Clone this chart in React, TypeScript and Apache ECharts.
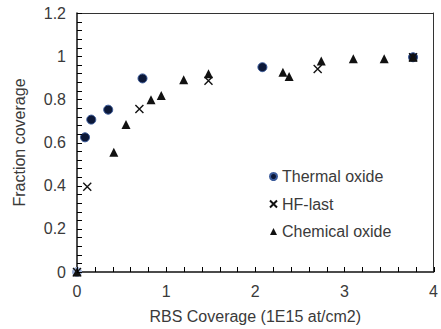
import React, { useEffect, useRef } from "react";
import * as echarts from "echarts";

const thermalX = [0, 0.09, 0.16, 0.35, 0.735, 2.08, 3.77];
const thermalY = [0, 0.624, 0.706, 0.752, 0.897, 0.949, 0.995];

const hfX = [0, 0.115, 0.7, 1.475, 2.7, 3.77];
const hfY = [0, 0.395, 0.755, 0.886, 0.94, 0.995];

const chemX = [0, 0.413, 0.55, 0.83, 0.945, 1.197, 1.475, 2.31, 2.38, 2.74, 3.1, 3.446, 3.77];
const chemY = [0, 0.555, 0.683, 0.798, 0.818, 0.891, 0.918, 0.926, 0.906, 0.978, 0.988, 0.988, 0.995];

const seriesNames = ["Thermal oxide", "HF-last", "Chemical oxide"];
const xTitle = "RBS Coverage (1E15 at/cm2)";
const yTitle = "Fraction coverage";

// axis tick positions (every 0.2 on x, every 0.04 on y)
const xTickValues = Array.from({ length: 21 }, (_, i) => +(i * 0.2).toFixed(2));
const yTickValues = Array.from({ length: 31 }, (_, i) => +(i * 0.04).toFixed(2));

const zip = (xs: number[], ys: number[]) => xs.map((x, i) => [x, ys[i]]);

const FONT = "'Liberation Sans', Arial, sans-serif";
const TXT = "#3a3a3a";

export default function App() {
  const ref = useRef<HTMLDivElement>(null);
  useEffect(() => {
    if (!ref.current) return;
    const chart = echarts.init(ref.current, undefined, { renderer: "svg" });
    const mk = () => ({
      axisLine: { show: true, lineStyle: { color: "#111", width: 1.5 } },
      axisTick: { show: false },
      minorTick: { show: false },
      splitLine: { show: false },
      axisLabel: { color: TXT, fontSize: 16, fontFamily: FONT, margin: 11 },
      nameTextStyle: { color: TXT, fontSize: 16, fontFamily: FONT },
      nameLocation: "middle",
    });
    const border = () => ({
      type: "value",
      axisLine: { show: true, onZero: false, lineStyle: { color: "#333", width: 1 } },
      axisTick: { show: false },
      minorTick: { show: false },
      axisLabel: { show: false },
      splitLine: { show: false },
    });
    const thermalData = zip(thermalX, thermalY).map((v, i) =>
      i === 0 ? { value: v, itemStyle: { color: "#9db0d6", borderColor: "#9db0d6" } } : v
    );
    chart.setOption({
      animation: false,
      backgroundColor: "#fff",
      textStyle: { fontFamily: FONT },
      grid: { left: 77, right: 3, top: 13, bottom: 56 },
      xAxis: [
        { type: "value", min: 0, max: 4, interval: 1, name: xTitle, nameGap: 36, ...mk() },
        { ...border(), position: "top", min: 0, max: 4 },
      ],
      yAxis: [
        { type: "value", min: 0, max: 1.2, interval: 0.2, name: yTitle, nameGap: 50, ...mk() },
        { ...border(), position: "right", min: 0, max: 1.2 },
      ],
      legend: {
        orient: "vertical",
        left: 264,
        top: 163,
        itemWidth: 7,
        itemHeight: 7,
        itemGap: 10.5,
        textStyle: { color: TXT, fontSize: 16, fontFamily: FONT, lineHeight: 17 },
        data: [
          { name: seriesNames[0], icon: "circle" },
          { name: seriesNames[1], icon: "path://M0,0L10,10M10,0L0,10" },
          { name: seriesNames[2], icon: "triangle" },
        ],
      },
      series: [
        {
          name: seriesNames[0],
          type: "scatter",
          symbol: "circle",
          symbolSize: 9,
          data: thermalData,
          itemStyle: { color: "#0c1838", borderColor: "#3a5a9a", borderWidth: 1, opacity: 1 },
        },
        {
          name: seriesNames[1],
          type: "scatter",
          symbol: "path://M0,0L10,10M10,0L0,10",
          symbolSize: 8,
          data: zip(hfX, hfY),
          itemStyle: { color: "#111", borderColor: "#111", borderWidth: 1.4, opacity: 1 },
        },
        {
          name: seriesNames[2],
          type: "scatter",
          symbol: "triangle",
          symbolSize: 9,
          data: zip(chemX, chemY),
          itemStyle: { color: "#111", opacity: 1 },
        },
      ],
    });

    // ticks via the chart's own scales
    const tickEls: any[] = [];
    xTickValues.forEach((v) => {
      const p = chart.convertToPixel({ xAxisIndex: 0, yAxisIndex: 0 } as any, [v, 0]) as number[];
      if (!p) return;
      const x = Math.round(p[0]) + 0.5;
      tickEls.push({
        type: "line",
        silent: true,
        z: 100,
        shape: { x1: x, y1: p[1], x2: x, y2: p[1] - 5 },
        style: { stroke: "#000", lineWidth: 1 },
      });
    });
    yTickValues.forEach((v) => {
      const p = chart.convertToPixel({ xAxisIndex: 0, yAxisIndex: 0 } as any, [0, v]) as number[];
      if (!p) return;
      const y = Math.round(p[1]) + 0.5;
      tickEls.push({
        type: "line",
        silent: true,
        z: 100,
        shape: { x1: p[0], y1: y, x2: p[0] + 5, y2: y },
        style: { stroke: "#000", lineWidth: 1 },
      });
    });
    chart.setOption({ graphic: tickEls });

    return () => chart.dispose();
  }, []);
  return <div ref={ref} style={{ width: 441, height: 329, position: "absolute", left: 0, top: 0 }} />;
}
